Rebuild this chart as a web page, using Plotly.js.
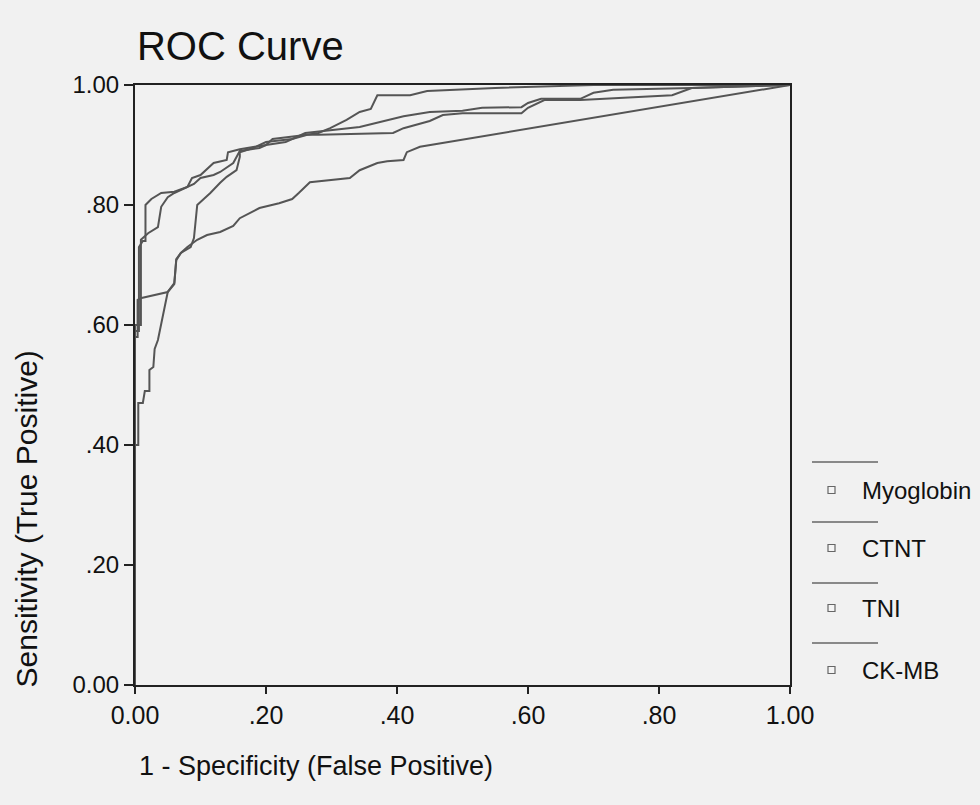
<!DOCTYPE html>
<html>
<head>
<meta charset="utf-8">
<script src="https://cdn.plot.ly/plotly-3.0.1.min.js"></script>
<style>html,body{margin:0;padding:0;background:#f1f1f1;}#chart{width:980px;height:805px;}</style>
</head>
<body>
<div id="chart"></div>
<script>
// Series names (legend order)
const seriesNames = ["Myoglobin", "CTNT", "TNI", "CK-MB"];

// Myoglobin (lowest curve)
const myoglobinX = [0,0,0.004,0.004,0.01,0.03,0.05,0.06,0.063,0.07,0.08,0.095,0.11,0.13,0.15,0.16,0.19,0.22,0.24,0.25,0.267,0.328,0.343,0.37,0.385,0.41,0.415,0.435,1];
const myoglobinY = [0,0.58,0.58,0.642,0.645,0.65,0.655,0.668,0.708,0.72,0.73,0.742,0.75,0.755,0.765,0.778,0.795,0.803,0.81,0.82,0.838,0.845,0.858,0.87,0.873,0.875,0.888,0.897,1];

// CTNT (starts low, reaches top first)
const ctntX = [0,0,0.005,0.005,0.012,0.015,0.022,0.022,0.028,0.03,0.035,0.04,0.045,0.05,0.06,0.063,0.07,0.085,0.09,0.095,0.105,0.115,0.13,0.14,0.155,0.16,0.16,0.18,0.2,0.24,0.263,0.28,0.298,0.323,0.343,0.36,0.37,0.42,0.446,0.55,0.7,1];
const ctntY = [0,0.40,0.40,0.47,0.47,0.49,0.49,0.525,0.53,0.56,0.575,0.60,0.63,0.655,0.67,0.71,0.72,0.73,0.745,0.80,0.81,0.82,0.837,0.847,0.858,0.88,0.888,0.895,0.905,0.91,0.917,0.92,0.928,0.942,0.955,0.96,0.983,0.983,0.99,0.995,1.0,1];

// TNI
const tniX = [0,0,0.006,0.006,0.012,0.016,0.016,0.025,0.04,0.06,0.08,0.087,0.1,0.11,0.12,0.14,0.142,0.16,0.2,0.21,0.263,0.28,0.394,0.41,0.45,0.47,0.5,0.59,0.6,0.625,0.68,0.82,0.85,1];
const tniY = [0,0.59,0.59,0.73,0.74,0.74,0.80,0.81,0.82,0.822,0.83,0.845,0.85,0.86,0.87,0.875,0.888,0.893,0.9,0.91,0.917,0.917,0.92,0.928,0.94,0.95,0.953,0.953,0.962,0.975,0.975,0.983,0.995,1];

// CK-MB
const ckmbX = [0,0,0.009,0.009,0.02,0.035,0.04,0.05,0.06,0.08,0.09,0.1,0.12,0.13,0.15,0.16,0.19,0.2,0.23,0.26,0.3,0.343,0.41,0.45,0.5,0.53,0.59,0.6,0.62,0.68,0.7,0.73,0.85,1];
const ckmbY = [0,0.60,0.60,0.742,0.753,0.763,0.797,0.813,0.82,0.83,0.835,0.845,0.85,0.855,0.87,0.89,0.895,0.9,0.905,0.92,0.925,0.93,0.948,0.955,0.957,0.962,0.963,0.97,0.977,0.977,0.987,0.992,0.995,1];

// Axis ticks
const tickValues = [0, 0.2, 0.4, 0.6, 0.8, 1.0];
const xTickLabels = ["0.00", ".20", ".40", ".60", ".80", "1.00"];
const yTickLabels = ["0.00", ".20", ".40", ".60", ".80", "1.00"];

const lineColor = "#555555";
const font = "Liberation Sans, Arial, sans-serif";

const seriesX = [myoglobinX, ctntX, tniX, ckmbX];
const seriesY = [myoglobinY, ctntY, tniY, ckmbY];

const traces = seriesNames.map((name, i) => ({
  type: "scatter", mode: "lines", name: name,
  x: seriesX[i], y: seriesY[i],
  line: {color: lineColor, width: 2},
  showlegend: false, hoverinfo: "x+y+name"
}));

// Plot area in pixels: left 135, right 790, top 85, bottom 685
const L = 135, R = 790, T = 85, B = 685;
const px = p => (p - L) / (R - L);
const py = p => (B - p) / (B - T);

const shapes = [];
const annotations = [];
const legendLineY = [462, 522, 583, 643];
const legendTextY = [490, 548, 608, 670];
seriesNames.forEach((name, i) => {
  shapes.push({type: "line", xref: "paper", yref: "paper",
    x0: px(812), x1: px(878), y0: py(legendLineY[i]), y1: py(legendLineY[i]),
    line: {color: "#666666", width: 1.5}});
  shapes.push({type: "rect", xref: "paper", yref: "paper",
    x0: px(828), x1: px(835), y0: py(legendTextY[i] + 3.5), y1: py(legendTextY[i] - 3.5),
    line: {color: "#666666", width: 1.2}, fillcolor: "#f4f4f4"});
  annotations.push({xref: "paper", yref: "paper", x: px(860), y: py(legendTextY[i]),
    xanchor: "left", yanchor: "middle", showarrow: false, text: name,
    font: {family: font, size: 24, color: "#111111"}});
});

annotations.push({xref: "paper", yref: "paper", x: px(137), y: py(766),
  xanchor: "left", yanchor: "middle", showarrow: false,
  text: "1 - Specificity (False Positive)", font: {family: font, size: 27, color: "#111111"}});
annotations.push({xref: "paper", yref: "paper", x: px(26), y: py(690),
  xanchor: "center", yanchor: "bottom", textangle: -90, showarrow: false,
  text: "Sensitivity (True Positive)", font: {family: font, size: 30, color: "#111111"}});

const layout = {
  width: 980, height: 805,
  margin: {l: L, r: 980 - R, t: T, b: 805 - B, pad: 0},
  paper_bgcolor: "#f1f1f1", plot_bgcolor: "#f1f1f1",
  title: {text: "ROC Curve", xref: "paper", x: 0.003, xanchor: "left",
    yref: "container", y: 1 - 46 / 805, yanchor: "middle",
    font: {family: font, size: 40, color: "#111111"}},
  xaxis: {range: [0, 1], tickvals: tickValues, ticktext: xTickLabels,
    showgrid: false, zeroline: false, showline: true, mirror: true,
    linecolor: "#222222", linewidth: 2, ticks: "outside", ticklen: 7, tickwidth: 2, tickcolor: "#222222",
    tickfont: {family: font, size: 25, color: "#111111"}, fixedrange: true},
  yaxis: {range: [0, 1], tickvals: tickValues, ticktext: yTickLabels,
    showgrid: false, zeroline: false, showline: true, mirror: true,
    linecolor: "#222222", linewidth: 2, ticks: "outside", ticklen: 9, tickwidth: 2, tickcolor: "#222222",
    tickfont: {family: font, size: 24, color: "#111111"}, fixedrange: true},
  shapes: shapes,
  annotations: annotations,
  showlegend: false
};

Plotly.newPlot("chart", traces, layout, {displayModeBar: false, staticPlot: true});
</script>
</body>
</html>
